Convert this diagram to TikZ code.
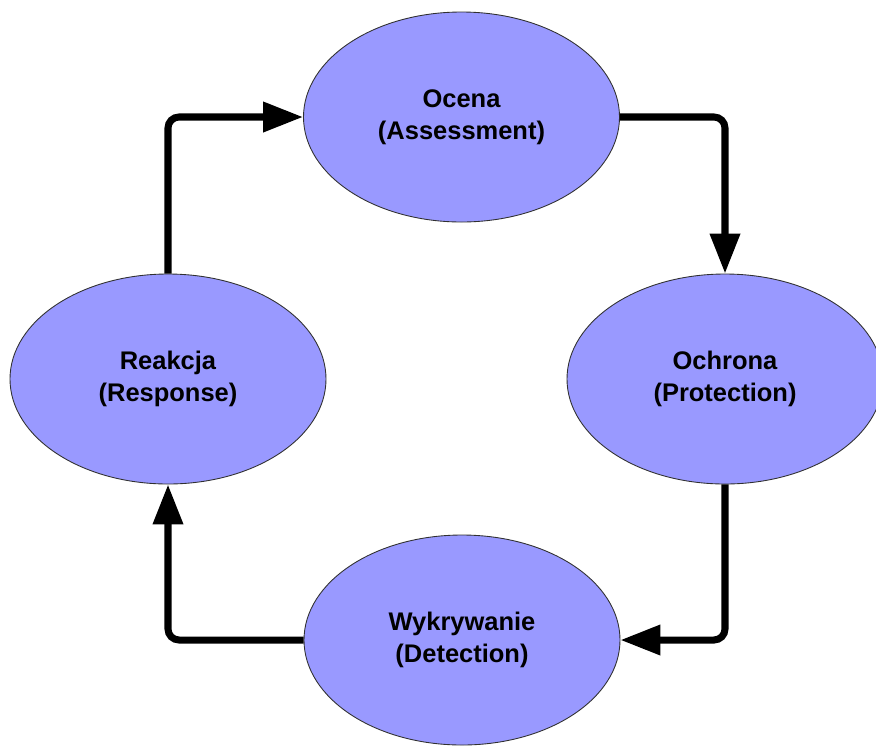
\documentclass[tikz,border=0pt]{standalone}
\usepackage{fontspec}
\setmainfont{Liberation Sans}
\usetikzlibrary{
	arrows.meta,
	positioning,
	shapes.geometric
}
\definecolor{PhaseFill}{HTML}{9999FF}
\definecolor{PhaseLine}{HTML}{303030}
\definecolor{CycleInk}{HTML}{000000}

\begin{document}
\begin{tikzpicture}[
 font=\bfseries\fontsize{14.5}{18.5}\selectfont,
 phase/.style={ellipse,draw=PhaseLine,fill=PhaseFill,line width=.5pt,
   minimum width=6.32cm,minimum height=4.2cm,inner sep=0pt,align=center},
 flow/.style={-{Triangle[length=.8cm,width=.58cm]},draw=CycleInk,
   line width=4pt,rounded corners=.22cm}
]
 \useasboundingbox (0,0) rectangle (17.52,-14.94);
 \node[phase] (assess) at (9.23,-2.34) {Ocena\\(Assessment)};
 \node[phase] (protect) at (14.5,-7.58) {Ochrona\\(Protection)};
 \node[phase] (respond) at (3.36,-7.58) {Reakcja\\(Response)};
 \node[phase] (detect) at (9.24,-12.8) {Wykrywanie\\(Detection)};
 \draw[flow] (respond.north) |- (assess.west);
 \draw[flow] (assess.east) -| (protect.north);
 \draw[flow] (protect.south) |- (detect.east);
 \draw[flow] (detect.west) -| (respond.south);
\end{tikzpicture}
\end{document}
